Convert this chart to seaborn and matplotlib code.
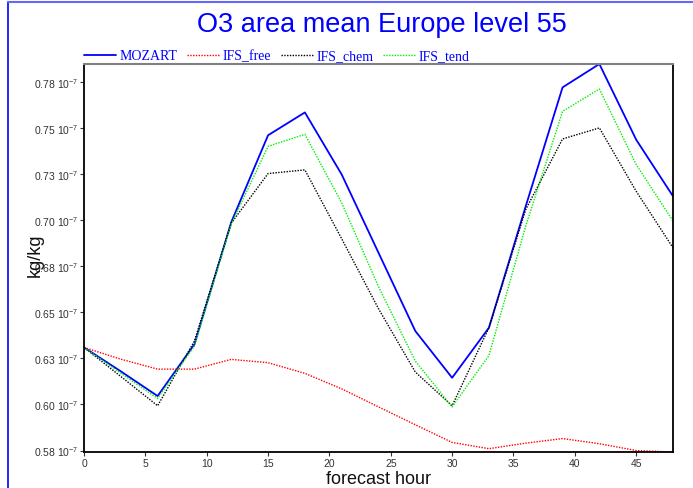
import matplotlib
matplotlib.use("Agg")
import matplotlib.pyplot as plt
from matplotlib.lines import Line2D
import numpy as np
import pandas as pd
import seaborn as sns

# forecast hours (3-hourly output)
hours = [0, 3, 6, 9, 12, 15, 18, 21, 24, 27, 30, 33, 36, 39, 42, 45, 48]

# O3 area mean, units of 1e-7 kg/kg
mozart = [0.631, 0.618, 0.6046, 0.6327, 0.6990, 0.7462, 0.7586, 0.7249, 0.6824,
          0.6399, 0.6145, 0.6417, 0.7077, 0.7722, 0.7849, 0.7438, 0.7131]
ifs_free = [0.631, 0.6246, 0.6192, 0.6192, 0.6245, 0.6227, 0.6169, 0.6085, 0.5987,
            0.5890, 0.5794, 0.5760, 0.5790, 0.5815, 0.5787, 0.5750, 0.5742]
ifs_chem = [0.631, 0.6152, 0.5993, 0.6345, 0.6985, 0.7254, 0.7274, 0.6900, 0.6520,
            0.6176, 0.5993, 0.6417, 0.7059, 0.7442, 0.7502, 0.7158, 0.6851]
ifs_tend = [0.631, 0.6170, 0.6033, 0.6318, 0.6980, 0.7402, 0.7467, 0.7095, 0.6640,
            0.6236, 0.5987, 0.6266, 0.6969, 0.7592, 0.7713, 0.7303, 0.6996]

series_names = ["MOZART", "IFS_free", "IFS_chem", "IFS_tend"]
series_values = [mozart, ifs_free, ifs_chem, ifs_tend]
series_colors = ["#0000ff", "#ff0000", "#000000", "#00ee00"]

y_ticks = [0.575, 0.600, 0.625, 0.650, 0.675, 0.700, 0.725, 0.750, 0.775]
y_tick_labels = ["0.58", "0.60", "0.63", "0.65", "0.68", "0.70", "0.73", "0.75", "0.78"]
x_ticks = [0, 5, 10, 15, 20, 25, 30, 35, 40, 45]

sns.set_theme(style="white")
plt.rcParams["font.family"] = ["Liberation Sans", "DejaVu Sans"]
plt.rcParams["mathtext.default"] = "regular"

fig = plt.figure(figsize=(6.93, 4.89), dpi=100)
ax = fig.add_axes([84 / 693, 36 / 489, 589 / 693, 388 / 489])

frames = []
for name, vals in zip(series_names, series_values):
    frames.append(pd.DataFrame({"hour": hours, "value": vals, "run": name}))
df = pd.concat(frames, ignore_index=True)

handles = []
for name, color in zip(series_names, series_colors):
    sub = df[df["run"] == name]
    if name == "MOZART":
        kw = dict(linewidth=1.3, linestyle="-")
    else:
        kw = dict(linewidth=1.0, linestyle=(0, (1, 1)))
    sns.lineplot(data=sub, x="hour", y="value", color=color, ax=ax,
                 legend=False, **kw)
    handles.append(Line2D([0], [0], color=color, **kw))

all_vals = np.concatenate([np.asarray(v) for v in series_values])
ax.set_xlim(hours[0], hours[-1])
ax.set_ylim(all_vals.min(), all_vals.max())

ax.set_xticks(x_ticks)
ax.set_xticklabels([str(t) for t in x_ticks])
ax.set_yticks(y_ticks)
ax.set_yticklabels([f"{s} 10$^{{-7}}$" for s in y_tick_labels])
ax.tick_params(axis="both", which="major", direction="out", length=3, width=0.8,
               color="#333333", labelsize=7.5, labelcolor="#333333", pad=1,
               bottom=True, left=True)

for side in ["left", "bottom", "right"]:
    ax.spines[side].set_color("black")
    ax.spines[side].set_linewidth(1.3)
ax.spines["top"].set_color("#808080")
ax.spines["top"].set_linewidth(1.5)

ax.set_xlabel("forecast hour", fontsize=13, color="#111111", labelpad=2)
ax.set_ylabel("kg/kg", fontsize=13, color="#111111")
ax.yaxis.set_label_coords(-0.068, 0.51)

fig.text(382 / 693, 1 - 25 / 489, "O3 area mean Europe level 55", color="#0000ff",
         fontsize=19.5, ha="center", va="center")

leg = ax.legend(handles, series_names, loc="lower left", bbox_to_anchor=(0.0, 1.004),
                ncol=4, frameon=False, handlelength=2.3, handletextpad=0.25,
                columnspacing=0.7, borderaxespad=0.0, borderpad=0.0,
                prop={"family": ["Liberation Serif"], "size": 10})
for t in leg.get_texts():
    t.set_color("#0000ff")

# page border lines
fig.add_artist(Line2D([8 / 693, 8 / 693], [0, 1 - 3 / 489], transform=fig.transFigure,
                      color="#0000ff", linewidth=1.2))
fig.add_artist(Line2D([8 / 693, 1], [1 - 3 / 489, 1 - 3 / 489], transform=fig.transFigure,
                      color="#6666ff", linewidth=1.5))

fig.savefig("out.png", dpi=100)
